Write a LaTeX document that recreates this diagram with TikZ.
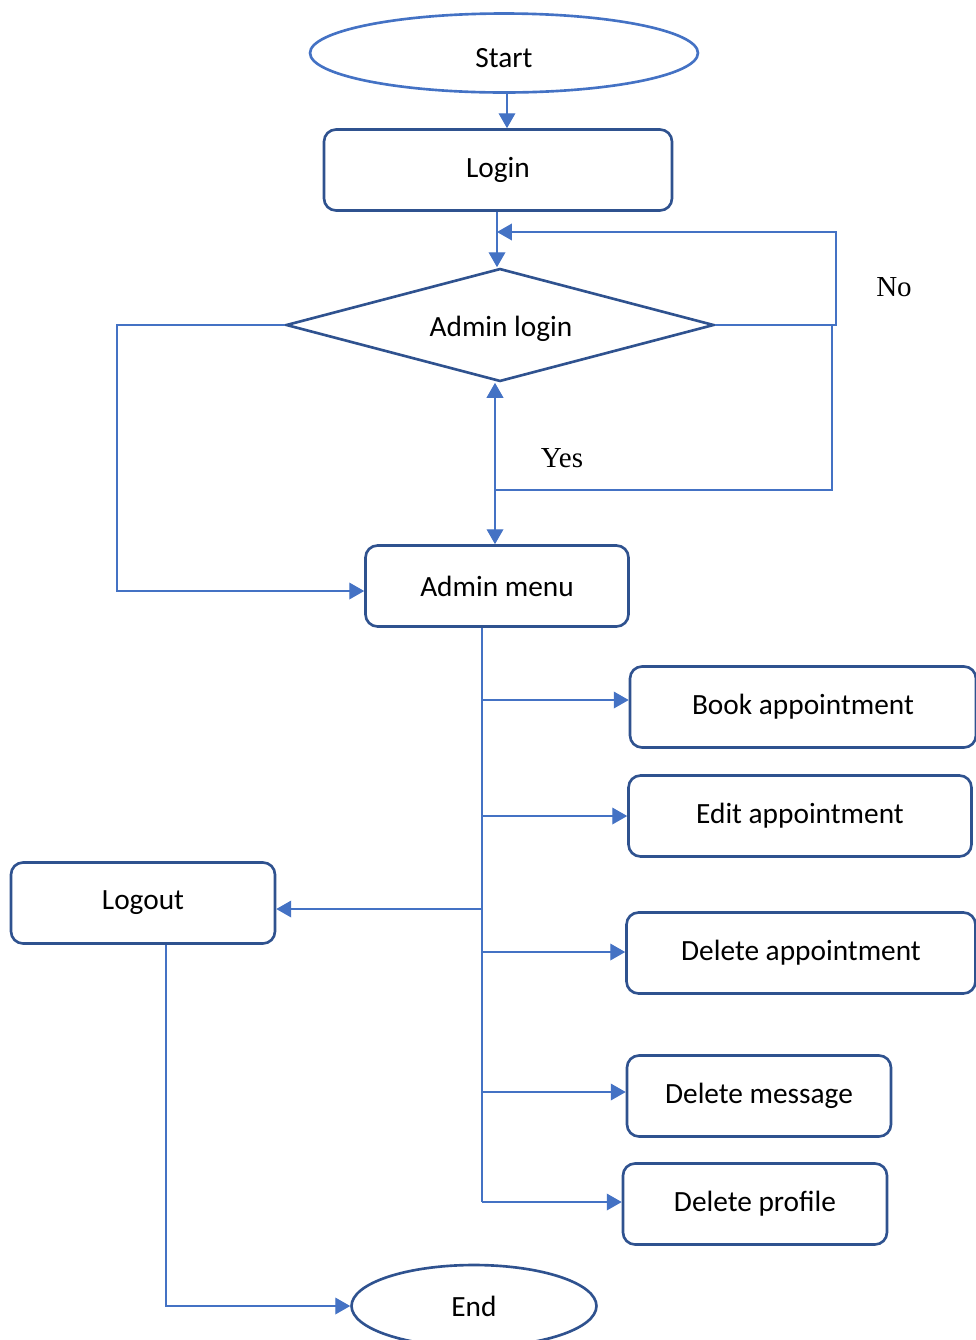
\documentclass[tikz,border=0pt]{standalone}
\usepackage{fontspec}
\setmainfont{Carlito}
\newfontfamily\labelfont{Liberation Serif}
\usetikzlibrary{shapes.geometric,arrows.meta}
\definecolor{boxblue}{HTML}{2F528F}
\definecolor{lineblue}{HTML}{4472C4}
\begin{document}
\begin{tikzpicture}[
    x=0.02cm, y=-0.02cm,
    font=\fontsize{16.7}{20}\selectfont,
    box/.style={rectangle, draw=boxblue, line width=1.5pt, rounded corners=0.24cm, text centered, minimum height=1.62cm},
    term/.style={ellipse, draw=boxblue, line width=1.5pt, inner sep=0pt},
    decision/.style={diamond, draw=boxblue, line width=1.5pt, inner sep=0pt, aspect=3.79, minimum width=8.56cm, minimum height=2.26cm},
    link/.style={draw=lineblue, line width=0.8pt},
    arrow/.style={link, -{Triangle[width=9.5pt,length=8.5pt]}},
    answer/.style={font=\labelfont\fontsize{16.5}{20}\selectfont}
]
\useasboundingbox (0,0) rectangle (976,1340);

\node[term, draw=lineblue, minimum width=7.76cm, minimum height=1.58cm] (start) at (504,53) {};
\node at (504,58) {Start};
\node[box, minimum width=6.96cm] (login) at (498,170) {Login};
\node[decision] (adm) at (500,325) {};
\node at (501,329) {Admin login};
\node[box, minimum width=5.26cm] (menu) at (497,586) {Admin menu};

\node[box, minimum width=6.92cm] (book) at (803,707) {Book appointment};
\node[box, minimum width=6.86cm] (edit) at (800,816) {Edit appointment};
\node[box, minimum width=5.28cm] (logout) at (143,903) {Logout};
\node[box, minimum width=6.98cm] (delapp) at (801,953) {Delete appointment};
\node[box, minimum width=5.28cm] (delmsg) at (759,1096) {Delete message};
\node[box, minimum width=5.28cm] (delprof) at (755,1204) {Delete profile};
\node[term, minimum width=4.9cm, minimum height=1.64cm] (end) at (474,1306) {End};

\node[answer] (no) at (894,287) {No};
\node[answer] (yes) at (562,458) {Yes};

\coordinate (j0) at (507,93);
\coordinate (j1) at (497,232);
\coordinate (j2) at (495,490);
\coordinate (l2) at (117,591);
\coordinate (trunk) at (482,1202);
\coordinate (l1) at (166,1306);

% top part
\draw[arrow] (start.south -| j0) -- (login.north -| j0);
\draw[arrow] (login.south -| j1) -- (adm.north -| j1);
\draw[arrow] (adm.east) -- (836,325) -- (836,232) -- (j1);
\draw[link] (adm.east) -- (832,325) -- (832,490) -- (j2);
\draw[arrow] (j2) -- (adm.south -| j2);
\draw[arrow] (j2) -- (menu.north -| j2);
\draw[arrow] (adm.west) -| (l2) -- (menu.west |- l2);

% menu options
\draw[link] (menu.south -| trunk) -- (trunk);
\draw[arrow] (trunk |- 0,700) -- (book.west |- 0,700);
\draw[arrow] (trunk |- edit.west) -- (edit.west);
\draw[arrow] (trunk |- 0,909) -- (logout.east |- 0,909);
\draw[arrow] (trunk |- 0,952) -- (delapp.west |- 0,952);
\draw[arrow] (trunk |- 0,1092) -- (delmsg.west |- 0,1092);
\draw[arrow] (trunk) -- (delprof.west |- trunk);

% logout to end
\draw[arrow] (logout.south -| l1) -- (l1) -- (end.west);

\end{tikzpicture}
\end{document}
